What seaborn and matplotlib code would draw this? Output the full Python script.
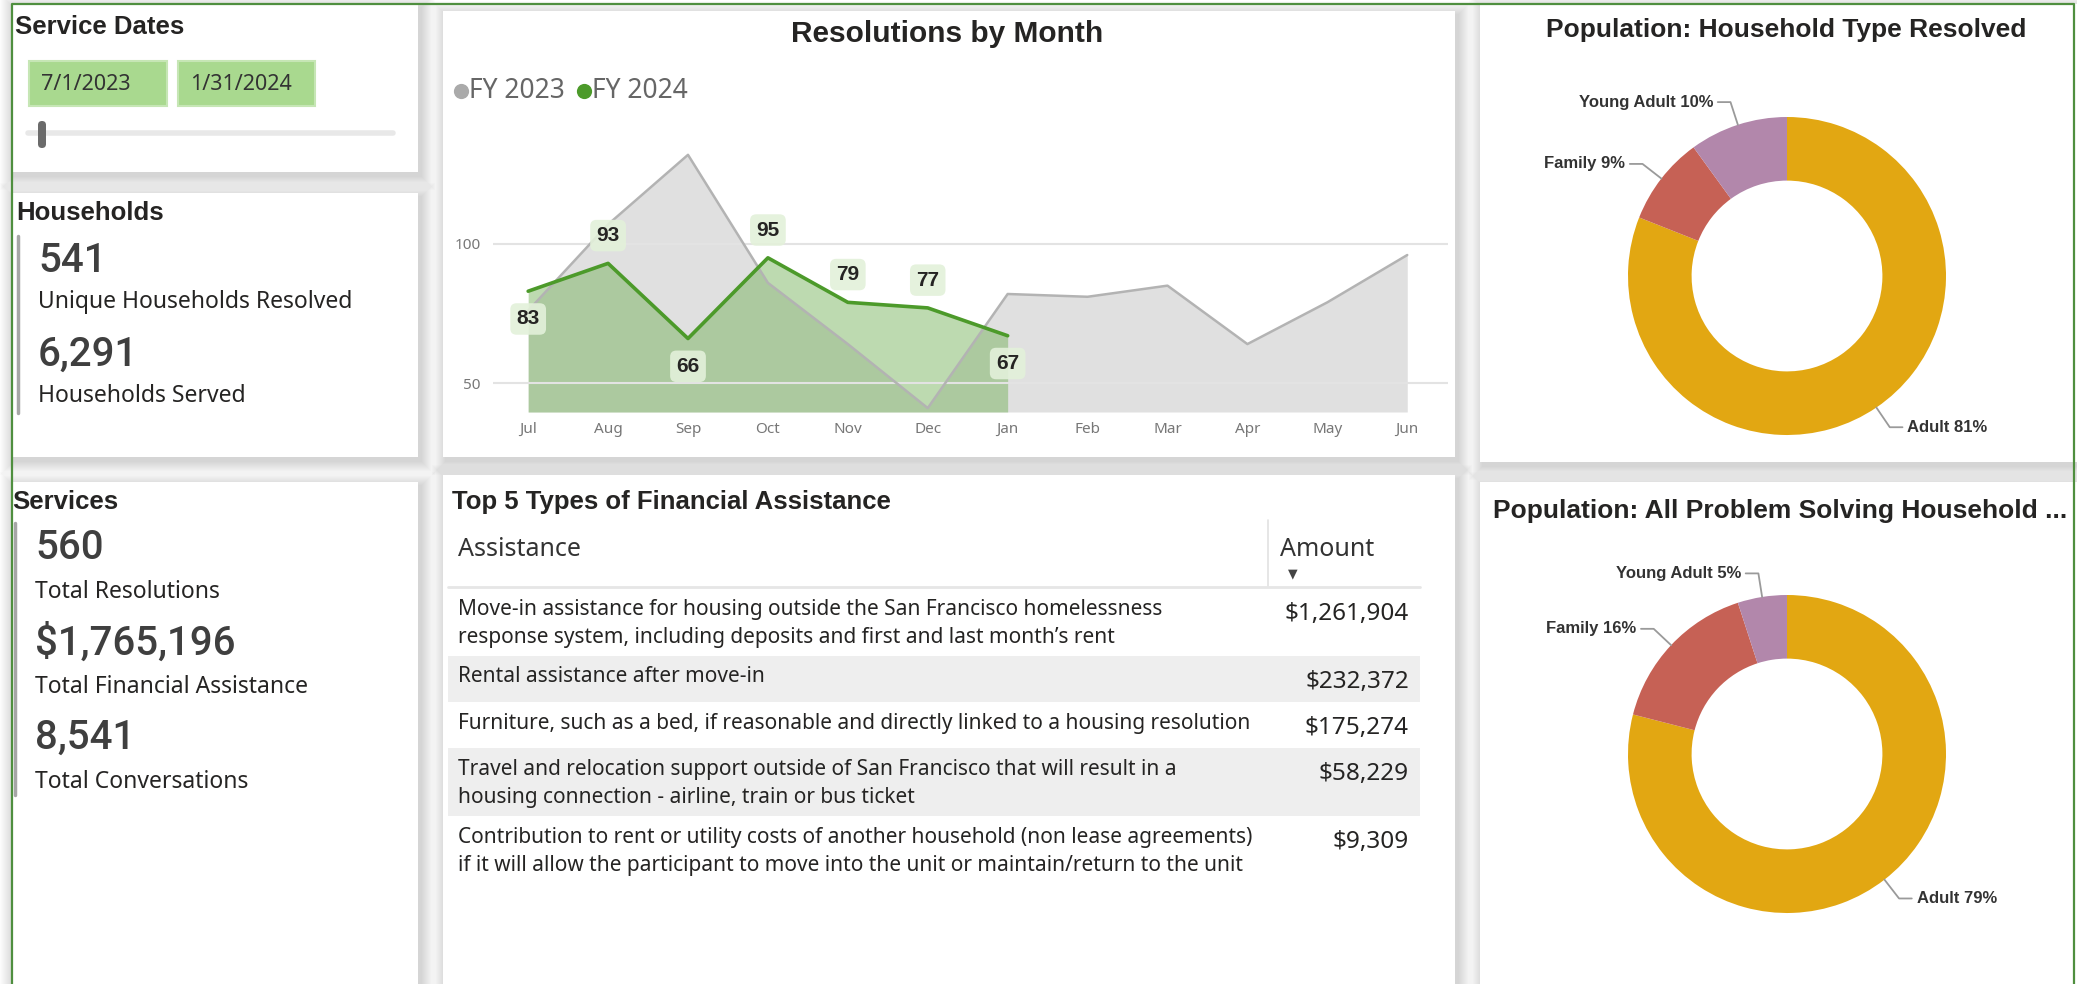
import numpy as np
import pandas as pd
import matplotlib
matplotlib.use("Agg")
import matplotlib.pyplot as plt
import seaborn as sns
from matplotlib.patches import Rectangle, FancyBboxPatch

# ---- data ----
months = ["Jul", "Aug", "Sep", "Oct", "Nov", "Dec", "Jan", "Feb", "Mar", "Apr", "May", "Jun"]
fy2023 = [76, 107, 132, 86, 64, 41, 82, 81, 85, 64, 79, 96]
fy2024 = [83, 93, 66, 95, 79, 77, 67]

date_from = "7/1/2023"
date_to = "1/31/2024"

household_values = ["541", "6,291"]
household_labels = ["Unique Households Resolved", "Households Served"]
service_values = ["560", "$1,765,196", "8,541"]
service_labels = ["Total Resolutions", "Total Financial Assistance", "Total Conversations"]

assist_types = [
    "Move-in assistance for housing outside the San Francisco homelessness\nresponse system, including deposits and first and last month\u2019s rent",
    "Rental assistance after move-in",
    "Furniture, such as a bed, if reasonable and directly linked to a housing resolution",
    "Travel and relocation support outside of San Francisco that will result in a\nhousing connection - airline, train or bus ticket",
    "Contribution to rent or utility costs of another household (non lease agreements)\nif it will allow the participant to move into the unit or maintain/return to the unit",
]
assist_amounts = [1261904, 232372, 175274, 58229, 9309]

hh_types = ["Adult", "Family", "Young Adult"]
hh_resolved = [81, 9, 10]
hh_all = [79, 16, 5]

# ---- style ----
sns.set_theme(style="white")
plt.rcParams["font.family"] = ["Noto Sans", "DejaVu Sans"]

W, H = 2077, 984
DARK = "#252423"
BOLD = dict(family=["Liberation Sans", "DejaVu Sans"], fontweight="bold")
KPI = dict(family=["Roboto", "DejaVu Sans"], fontweight="medium")
pie_colors = ["#E2A712", "#C66155", "#B287AB"]

fig = plt.figure(figsize=(W / 100, H / 100), dpi=100)
bg = fig.add_axes([0, 0, 1, 1])
bg.set_xlim(0, W)
bg.set_ylim(H, 0)
bg.axis("off")


def px_axes(x0, y0, x1, y1):
    a = fig.add_axes([x0 / W, 1 - y1 / H, (x1 - x0) / W, (y1 - y0) / H])
    a.patch.set_alpha(0)
    return a


panels = [
    (11, 4, 418, 172),
    (11, 193, 418, 457),
    (11, 482, 418, 1010),
    (443, 11, 1455, 457),
    (443, 475, 1455, 1010),
    (1480, 4, 2090, 462),
    (1480, 482, 2090, 1010),
]
for x0, y0, x1, y1 in panels:
    for i in range(14, 0, -1):
        bg.add_patch(Rectangle((x0 - i + 3, y0 - i + 4), x1 - x0 + 2 * i, y1 - y0 + 2 * i,
                               fc="black", alpha=0.011, lw=0, zorder=0))
for x0, y0, x1, y1 in panels:
    bg.add_patch(Rectangle((x0, y0), x1 - x0, y1 - y0, fc="white", lw=0, zorder=1))

# outer green frame
bg.plot([11.5, 11.5, 2074, 2074], [H, 3.5, 3.5, H], color="#4f8f3f", lw=1.6, zorder=10)

# ---- left column ----
bg.text(15, 27, "Service Dates", fontsize=18.5, color=DARK, va="center", zorder=5, **BOLD)
for (bx0, bx1), txt in zip([(29, 167), (178, 315)], [date_from, date_to]):
    bg.add_patch(Rectangle((bx0, 61), bx1 - bx0, 45, fc="#a9d98f", ec="#c6e6b5", lw=1.5, zorder=3))
    bg.text(bx0 + 12, 84, txt, fontsize=15.5, color="#333333", va="center", zorder=5)
bg.plot([28, 393], [133, 133], color="#e8e8e8", lw=4, solid_capstyle="round", zorder=3)
bg.add_patch(FancyBboxPatch((38, 121), 8, 27, boxstyle="round,pad=0,rounding_size=4",
                            fc="#6b6b6b", lw=0, zorder=4))

bg.text(16, 213, "Households", fontsize=18.5, color=DARK, va="center", zorder=5, **BOLD)
bg.plot([18, 18], [236, 413], color="#a6a6a6", lw=2.5, zorder=4)
for i, (v, lab) in enumerate(zip(household_values, household_labels)):
    y = 261 + 94 * i
    bg.text(38, y, v, fontsize=29, color="#3f3f3f", va="center", zorder=5, **KPI)
    bg.text(38, y + 41, lab, fontsize=16.5, color=DARK, va="center", zorder=5)

bg.text(12, 502, "Services", fontsize=18.5, color=DARK, va="center", zorder=5, **BOLD)
bg.plot([15, 15], [523, 795], color="#a6a6a6", lw=2.5, zorder=4)
for i, (v, lab) in enumerate(zip(service_values, service_labels)):
    y = 548 + 95 * i
    bg.text(35, y, v, fontsize=29, color="#3f3f3f", va="center", zorder=5, **KPI)
    bg.text(35, y + 44, lab, fontsize=16.5, color=DARK, va="center", zorder=5)

# ---- resolutions by month ----
bg.text(947, 34, "Resolutions by Month", fontsize=21.5, color=DARK,
        ha="center", va="center", zorder=5, **BOLD)
for cx, col, lab in [(461, "#aaaaaa", "FY 2023"), (584, "#4c9a2a", "FY 2024")]:
    bg.scatter([cx], [91], s=120, color=col, zorder=5, lw=0)
    bg.text(cx + 8, 91, lab, fontsize=19, color="#666666", va="center", zorder=5)

ax = px_axes(493, 100, 1448, 412)
y_floor = 39.6
d23 = pd.DataFrame({"m": np.arange(len(fy2023)), "v": fy2023})
d24 = pd.DataFrame({"m": np.arange(len(fy2024)), "v": fy2024})
ax.fill_between(d23["m"], d23["v"], y_floor, color="#e0e0e0", lw=0, zorder=1)
ax.fill_between(d24["m"], d24["v"], y_floor, color="#6daf50", alpha=0.45, lw=0, zorder=1.2)
sns.lineplot(data=d23, x="m", y="v", ax=ax, color="#b3b3b3", lw=1.8, zorder=3)
sns.lineplot(data=d24, x="m", y="v", ax=ax, color="#4c9a2a", lw=2.6, zorder=4)
label_side = [-1, 1, -1, 1, 1, 1, -1]
for m, v, s in zip(d24["m"], d24["v"], label_side):
    ax.annotate(str(v), (m, v), xytext=(0, 20 * s), textcoords="offset points",
                ha="center", va="center", fontsize=15, color=DARK, zorder=6,
                bbox=dict(boxstyle="round,pad=0.3", fc="#e3f1da", ec="none", alpha=0.9), **BOLD)
ax.set_xlim(-0.44, 11.51)
ax.set_ylim(y_floor, 151.7)
ax.set_xticks(range(len(months)), months)
ax.set_yticks([50, 100])
ax.set_axisbelow("line")
ax.yaxis.grid(True, color="#e3e3e3", lw=1.5)
ax.xaxis.grid(False)
ax.tick_params(axis="both", length=0, labelsize=11, labelcolor="#777777")
ax.tick_params(axis="x", pad=7)
ax.tick_params(axis="y", pad=9)
ax.set_xlabel("")
ax.set_ylabel("")
sns.despine(ax=ax, left=True, bottom=True)

# ---- table ----
bg.text(452, 502, "Top 5 Types of Financial Assistance", fontsize=18.5, color=DARK,
        va="center", zorder=5, **BOLD)
bg.text(458, 549, "Assistance", fontsize=18, color="#333333", va="center", zorder=5)
bg.text(1280, 549, "Amount", fontsize=18, color="#333333", va="center", zorder=5)
bg.text(1288, 574, "\u25bc", fontsize=9, color="#444444", va="center", zorder=5)
bg.plot([1268, 1268], [520, 587], color="#e2e2e2", lw=1.2, zorder=4)
bg.plot([448, 1420], [587, 587], color="#e6e6e6", lw=2, zorder=4)
top = 588
for i, (txt, amt) in enumerate(zip(assist_types, assist_amounts)):
    lines = txt.split("\n")
    h = 24 + 22 * len(lines)
    if i % 2 == 1:
        bg.add_patch(Rectangle((448, top), 972, h, fc="#eeeeee", lw=0, zorder=3))
    for k, ln in enumerate(lines):
        bg.text(458, top + 21 + 28 * k, ln, fontsize=15, color=DARK, va="center", zorder=5)
    bg.text(1409, top + 26, f"${amt:,}", fontsize=17.5, color=DARK, ha="right", va="center", zorder=5)
    top += h

# ---- donuts ----
def donut(cx, cy, values):
    R, k = 159, 1.6
    a = px_axes(cx - k * R, cy - k * R, cx + k * R, cy + k * R)
    wedges, _ = a.pie(values, colors=pie_colors, startangle=90, counterclock=False, radius=1,
                      wedgeprops=dict(width=0.4, linewidth=0))
    a.set_xlim(-k, k)
    a.set_ylim(-k, k)
    for w, name, v in zip(wedges, hh_types, values):
        ang = np.deg2rad((w.theta1 + w.theta2) / 2)
        ex, ey = np.cos(ang), np.sin(ang)
        bx, by = 1.15 * ex, 1.15 * ey
        side = 1 if ex > 0 else -1
        hx = bx + side * 0.08
        a.plot([ex, bx, hx], [ey, by, by], color="#9a9a9a", lw=1.3, clip_on=False)
        a.text(hx + side * 0.03, by, f"{name} {v}%", ha="left" if side > 0 else "right",
               va="center", fontsize=12, color="#333333", clip_on=False, **BOLD)


bg.text(1786, 30, "Population: Household Type Resolved", fontsize=19, color=DARK,
        ha="center", va="center", zorder=5, **BOLD)
donut(1787, 276, hh_resolved)
bg.text(1493, 511, "Population: All Problem Solving Household ...", fontsize=19, color=DARK,
        ha="left", va="center", zorder=5, **BOLD)
donut(1787, 754, hh_all)

fig.savefig("out.png", dpi=100, facecolor="white")
